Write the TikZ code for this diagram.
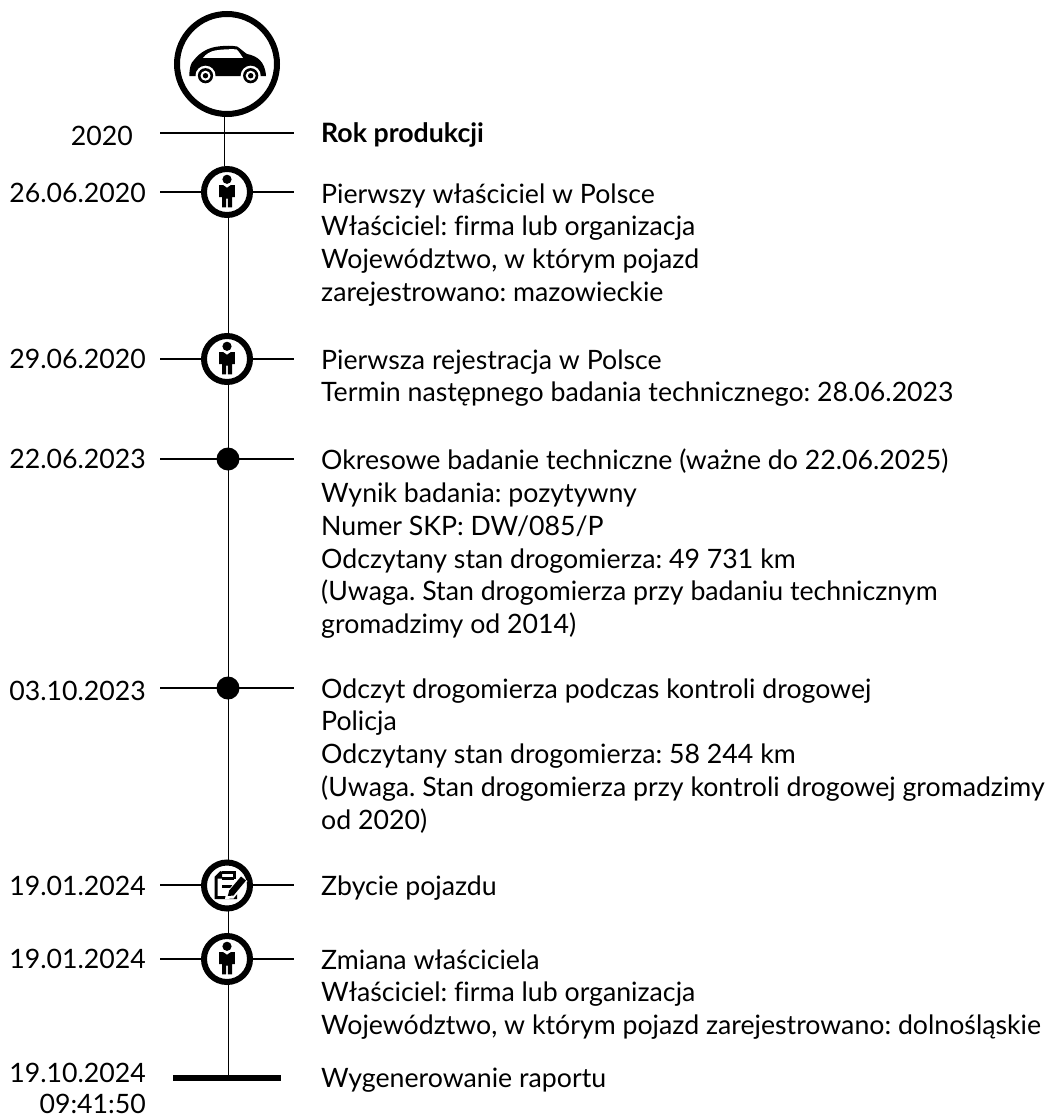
\documentclass[tikz,border=0pt]{standalone}
\usepackage{fontspec}
\setmainfont[RawFeature=-liga]{Lato}
\newcommand{\fs}{\fontsize{26.7pt}{32.75pt}\selectfont\frenchspacing}
\newcommand{\fl}{\rule{0pt}{20pt}}
\tikzset{
 tl/.style={line width=1.4pt,black},
 ring/.style={circle,draw=black,line width=6pt,fill=white,minimum size=46pt,inner sep=0pt,outer sep=0pt},
 dotn/.style={circle,fill=black,minimum size=23pt,inner sep=0pt,outer sep=0pt},
 datelab/.style={anchor=base east,inner sep=0pt,font=\fs,align=right},
 txt/.style={anchor=north west,inner sep=0pt,font=\fs,align=left,yshift=20pt}
}
\newcommand{\personicon}[1]{%
 \begin{scope}[shift={(#1)}]
 \fill (0,-12.7) circle (4.6);
 \fill (-7.8,-6.9) -- (-3.8,-6.9) -- (0,-4.2) -- (3.8,-6.9) -- (7.8,-6.9) -- (7.8,5.2) -- (5,5.2) -- (5,15.3) -- (0.8,15.3) -- (0.8,6.7) -- (-0.8,6.7) -- (-0.8,15.3) -- (-5,15.3) -- (-5,5.2) -- (-7.8,5.2) -- cycle;
 \end{scope}}
\begin{document}
\begin{tikzpicture}[x=1pt,y=-1pt]
\useasboundingbox (0,0) rectangle (1052,1116);
\coordinate (topstub) at (224.5,117);
\coordinate (l0a) at (160,133); \coordinate (l0b) at (294,133);
\coordinate (bendtop) at (224.5,166);
\foreach \n/\y in {1/192,2/359,3/459,4/688,5/885,6/959}{
 \coordinate (la\n) at (160,\y); \coordinate (lb\n) at (294,\y);
}
\coordinate (barl) at (173,1078); \coordinate (barr) at (281,1078); \coordinate (barm) at (228.5,1078);
\coordinate (v1) at (228.5,192);
\draw[tl] (l0a)--(l0b);
\draw[tl] (topstub)--(bendtop);
\foreach \n in {1,...,6}{\draw[tl] (la\n)--(lb\n);}
\draw[tl] (v1)--(barm);
\draw[line width=6pt] (barl)--(barr);
\node[circle,draw=black,line width=6pt,fill=white,minimum size=100pt,inner sep=0pt,outer sep=0pt] (car) at (227,64) {};
\fill (189.3,76) .. controls (189.5,68) and (190.5,63) .. (194,60) .. controls (200,52) and (209,47.5) .. (218,46.5) .. controls (226,45.5) and (232,45.5) .. (237,46.5) .. controls (240,48) and (243,51.5) .. (247,54) .. controls (257,56) and (265,61) .. (266,76) -- cycle;
\fill[white] (203,58) .. controls (206,54) and (210,51.5) .. (215,50.5) .. controls (222,49.3) and (230,49) .. (236.5,49.3) .. controls (239,51.5) and (241,55) .. (243,58) -- cycle;
\foreach \cx in {205.5,250.7}{
  \fill[white] (\cx,75.7) circle (10);
  \fill (\cx,75.7) circle (7.6);
  \fill[white] (\cx,75.7) circle (5);
  \fill (\cx,75.7) circle (2.7);
}
\node[ring] (m1) at (227,192) {};
\personicon{227,192}
\node[ring] (m2) at (227,359) {};
\personicon{227,359}
\node[dotn] (m3) at (228,459) {};
\node[dotn] (m4) at (228,688) {};
\node[ring] (m5) at (227,885.5) {};
\begin{scope}[shift={(227,885.5)}]
 \draw[line width=3pt,line join=miter] (-5.5,-13.5) -- (7,-13.5) -- (7,-7);
 \draw[line width=3pt,line join=miter] (-5.5,-13.5) -- (-11,-8) -- (-11,12) -- (8.5,12) -- (8.5,3);
 \fill (-12,-7) -- (-5,-14.5) -- (-5,-7) -- cycle;
 \draw[line width=3pt] (-5,-7) -- (7,-7);
 \draw[line width=3pt] (-5,0.5) -- (6,0.5);
 \fill[white] (-1,8) -- (13,-10) -- (20.5,-4.5) -- (6.5,13) -- (-2,13.5) -- cycle;
 \fill (2.2,5) -- (14,-9) -- (19,-5) -- (6.5,10) -- (0.8,10.5) -- cycle;
\end{scope}
\node[ring] (m6) at (227,959) {};
\personicon{227,959}
\node[datelab] (d0) at (133,145) {2020};
\node[datelab] (d1) at (146,202.5) {26.06.2020};
\node[datelab] (d2) at (146,368.5) {29.06.2020};
\node[datelab] (d3) at (146,468.5) {22.06.2023};
\node[datelab] (d4) at (146,700) {03.10.2023};
\node[datelab] (d5) at (146,895) {19.01.2024};
\node[datelab] (d6) at (146,968) {19.01.2024};
\node[datelab] (d7) at (146,1082.5) {19.10.2024};
\node[datelab] (d8) at (146,1113) {09:41:50};
\node[txt,font=\fs\bfseries] (t0) at (321,142) {\fl Rok produkcji};
\node[txt] (t1) at (321,203) {\fl Pierwszy właściciel w Polsce\\Właściciel: firma lub organizacja\\Województwo, w którym pojazd\\zarejestrowano: mazowieckie};
\node[txt] (t2) at (321,369) {\fl Pierwsza rejestracja w Polsce\\Termin następnego badania technicznego: 28.06.2023};
\node[txt] (t3) at (321,469) {\fl Okresowe badanie techniczne (ważne do 22.06.2025)\\Wynik badania: pozytywny\\Numer SKP: DW/085/P\\Odczytany stan drogomierza: 49 731 km\\(Uwaga. Stan drogomierza przy badaniu technicznym\\gromadzimy od 2014)};
\node[txt] (t4) at (321,698) {\fl Odczyt drogomierza podczas kontroli drogowej\\Policja\\Odczytany stan drogomierza: 58 244 km\\(Uwaga. Stan drogomierza przy kontroli drogowej gromadzimy\\od 2020)};
\node[txt] (t5) at (321,895) {\fl Zbycie pojazdu};
\node[txt] (t6) at (321,969) {\fl Zmiana właściciela\\Właściciel: firma lub organizacja\\Województwo, w którym pojazd zarejestrowano: dolnośląskie};
\node[txt] (t7) at (321,1087) {\fl Wygenerowanie raportu};
\end{tikzpicture}
\end{document}
